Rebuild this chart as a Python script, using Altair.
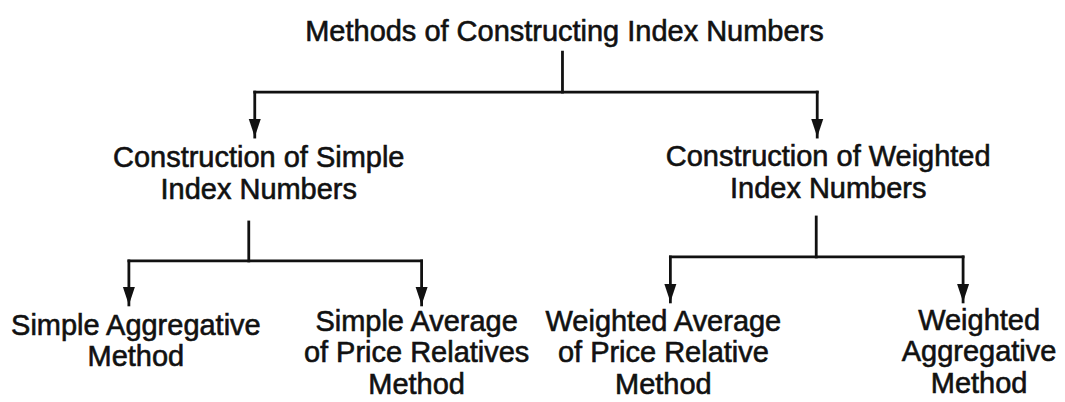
import altair as alt
import pandas as pd

# ---- node labels (tree diagram) ----
labels = [
    "Methods of Constructing Index Numbers",
    "Construction of Simple\nIndex Numbers",
    "Construction of Weighted\nIndex Numbers",
    "Simple Aggregative\nMethod",
    "Simple Average\nof Price Relatives\nMethod",
    "Weighted Average\nof Price Relative\nMethod",
    "Weighted\nAggregative\nMethod",
]
label_x = [565, 259, 829, 136, 417, 664, 980]
label_y = [41, 167, 166, 335, 331, 331, 330]

# ---- connector segments ----
seg_x1 = [563, 255, 255, 818, 249, 129, 129, 422, 817, 671, 671, 964]
seg_y1 = [52, 92, 92, 92, 222, 261, 261, 261, 217, 257, 257, 257]
seg_x2 = [563, 818, 255, 818, 249, 422, 129, 422, 817, 964, 671, 964]
seg_y2 = [92, 92, 137, 137, 261, 261, 305, 305, 257, 257, 302, 302]
seg_arrow = [False, False, True, True, False, False, True, True, False, False, True, True]

nodes = pd.DataFrame({"label": labels, "x": label_x, "y": label_y})
segs = pd.DataFrame({"x1": seg_x1, "y1": seg_y1, "x2": seg_x2, "y2": seg_y2, "arrow": seg_arrow})
heads = segs[segs["arrow"]].rename(columns={"x2": "hx", "y2": "hy"})[["hx", "hy"]]

W, H = 1049, 386
xs = alt.Scale(domain=[8, 8 + W], nice=False, zero=False)
ys = alt.Scale(domain=[8, 8 + H], nice=False, zero=False, reverse=True)
INK = "#111111"

lines = alt.Chart(segs).mark_rule(color=INK, strokeWidth=2.8, strokeCap="square").encode(
    x=alt.X("x1:Q", scale=xs, axis=None),
    y=alt.Y("y1:Q", scale=ys, axis=None),
    x2="x2:Q",
    y2="y2:Q",
)

arrowheads = alt.Chart(heads).mark_point(
    shape="M-0.6,-0.9L0.6,-0.9L0,0.9Z",
    size=400,
    filled=True,
    opacity=1,
    color=INK,
    yOffset=-9,
).encode(
    x=alt.X("hx:Q", scale=xs, axis=None),
    y=alt.Y("hy:Q", scale=ys, axis=None),
)

texts = alt.Chart(nodes).mark_text(
    font="Liberation Sans",
    fontSize=29,
    color=INK,
    stroke=INK,
    strokeWidth=0.6,
    align="center",
    baseline="alphabetic",
    lineBreak="\n",
    lineHeight=31.5,
).encode(
    x=alt.X("x:Q", scale=xs, axis=None),
    y=alt.Y("y:Q", scale=ys, axis=None),
    text="label:N",
)

chart = alt.layer(lines, arrowheads, texts).properties(
    width=W, height=H, padding=0, background="white"
).configure_view(stroke=None)

chart.save("out.html", embed_options={"renderer": "svg", "actions": False})
